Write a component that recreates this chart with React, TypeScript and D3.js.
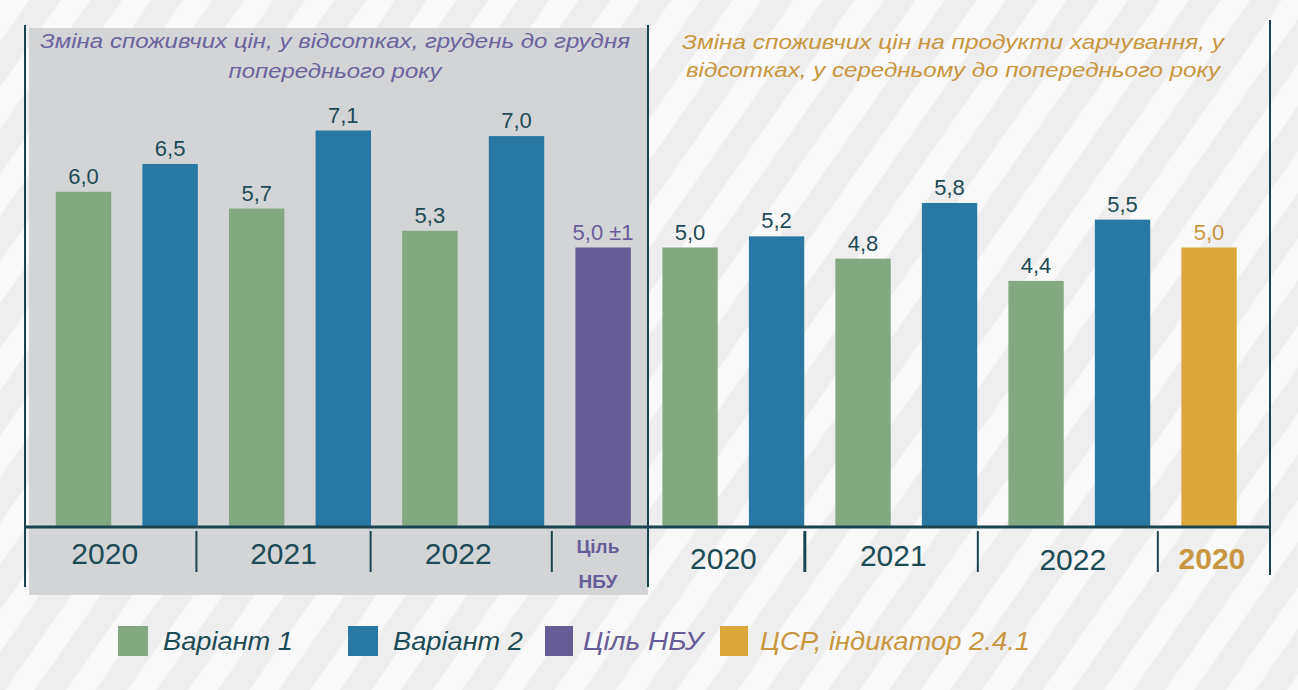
import React, { useEffect } from "react";
import * as d3 from "d3";

const years = ["2020", "2021", "2022"];
const variant1Cpi = [6.0, 5.7, 5.3];
const variant2Cpi = [6.5, 7.1, 7.0];
const nbuTarget = 5.0;
const nbuTargetLabel = "5,0 ±1";
const variant1Food = [5.0, 4.8, 4.4];
const variant2Food = [5.2, 5.8, 5.5];
const sdgIndicator = 5.0;
const sdgYear = "2020";
const nbuCategory = ["Ціль", "НБУ"];
const leftTitle = ["Зміна споживчих цін, у відсотках, грудень до грудня", "попереднього року"];
const rightTitle = ["Зміна споживчих  цін на продукти харчування, у", "відсотках, у середньому до попереднього року"];
const legendItems = ["Варіант 1", "Варіант 2", "Ціль НБУ", "ЦСР, індикатор 2.4.1"];

const C = {
  green: "#84a882",
  blue: "#2878a3",
  purple: "#675d96",
  gold: "#dca73a",
  goldText: "#c8963e",
  dark: "#1d4b55",
  line: "#1a4550",
  panel: "#d3d4d6",
};
const FONT = "'Liberation Sans', Arial, sans-serif";
const fmt = (v: number) => v.toFixed(1).replace(".", ",");

type Bar = { key: string; value: number; color: string; label: string; labelColor: string };

const leftBars: Bar[] = [];
years.forEach((y, i) => {
  leftBars.push({ key: y + "-1", value: variant1Cpi[i], color: C.green, label: fmt(variant1Cpi[i]), labelColor: C.dark });
  leftBars.push({ key: y + "-2", value: variant2Cpi[i], color: C.blue, label: fmt(variant2Cpi[i]), labelColor: C.dark });
});
leftBars.push({ key: "nbu", value: nbuTarget, color: C.purple, label: nbuTargetLabel, labelColor: C.purple });

const rightBars: Bar[] = [];
years.forEach((y, i) => {
  rightBars.push({ key: y + "-1", value: variant1Food[i], color: C.green, label: fmt(variant1Food[i]), labelColor: C.dark });
  rightBars.push({ key: y + "-2", value: variant2Food[i], color: C.blue, label: fmt(variant2Food[i]), labelColor: C.dark });
});
rightBars.push({ key: "sdg", value: sdgIndicator, color: C.gold, label: fmt(sdgIndicator), labelColor: C.goldText });

const BASE = 526;
const y = d3.scaleLinear().domain([0, 8]).range([BASE, BASE - 8 * 55.7]);

function Panel({ bars, x0, x1, edgeL, edgeR, labels, sepOffsets, sepWidths }: any) {
  const x = d3.scaleBand<string>().domain(bars.map((b: Bar) => b.key)).range([x0, x1]).paddingInner(0.36).paddingOuter(0.18);
  const step = x.step();
  const seps = [2, 4, 6].map((i, k) => (x(bars[i].key) as number) - step * 0.33 + sepOffsets[k]);
  const bounds = [edgeL, ...seps, edgeR];
  return (
    <g>
      {bars.map((b: Bar) => (
        <g key={b.key}>
          <rect x={x(b.key)} y={y(b.value)} width={x.bandwidth()} height={BASE - y(b.value)} fill={b.color} />
          <text x={(x(b.key) as number) + x.bandwidth() / 2} y={y(b.value) - 8} textAnchor="middle" fontSize={22} fill={b.labelColor} fontFamily={FONT}>
            {b.label}
          </text>
        </g>
      ))}
      {seps.map((s: number, i: number) => (
        <line key={i} x1={s} x2={s} y1={531} y2={572} stroke={C.line} strokeWidth={sepWidths[i]} />
      ))}
      {labels.map((l: any, i: number) => {
        const cx = (bounds[i] + bounds[i + 1]) / 2;
        return l.render(cx);
      })}
    </g>
  );
}

export default function App() {
  useEffect(() => {
    document.body.style.margin = "0";
  }, []);
  const yearLabel = (t: string, color = C.dark, bold = false, dy = 0, dx = 0) => ({
    render: (cx: number) => (
      <text key={t + cx} x={cx + dx} y={564 + dy} textAnchor="middle" fontSize={30} fontWeight={bold ? "bold" : "normal"} fill={color} fontFamily={FONT}>
        {t}
      </text>
    ),
  });
  const nbuLabel = {
    render: (cx: number) => (
      <g key="nbu">
        {nbuCategory.map((t, i) => (
          <text key={t} x={cx - 2} y={553 + i * 35} textAnchor="middle" fontSize={19} fontWeight="bold" fill={C.purple} fontFamily={FONT}>
            {t}
          </text>
        ))}
      </g>
    ),
  };
  const legendColors = [C.green, C.blue, C.purple, C.gold];
  const legendTextColors = [C.dark, C.dark, C.purple, C.goldText];
  const legendX = [118, 348, 545, 720];
  const legendTextX = [163, 393, 583, 760];
  const legendW = [130, 130, 120, 270];
  const leftTitleW = [590, 213];
  const rightTitleW = [542, 534];
  return (
    <svg width={1298} height={690} style={{ display: "block" }}>
      <defs>
        <pattern id="stripes" width={50} height={50} patternUnits="userSpaceOnUse" patternTransform="rotate(35)">
          <rect width={50} height={50} fill="#eeeeee" />
          <rect width={24} height={50} fill="#f9f9f9" />
        </pattern>
      </defs>
      <rect width={1298} height={690} fill="url(#stripes)" />
      <rect x={29} y={28} width={619} height={567} fill={C.panel} />
      <line x1={25} x2={25} y1={25} y2={587} stroke={C.line} strokeWidth={2} />
      <line x1={648} x2={648} y1={25} y2={587} stroke={C.line} strokeWidth={2} />
      <line x1={1270} x2={1270} y1={20} y2={575} stroke={C.line} strokeWidth={2} />
      {leftTitle.map((t, i) => (
        <text key={t} x={335} y={48 + i * 30} textAnchor="middle" fontSize={21} fontStyle="italic" fill="#6b639c" fontFamily={FONT}
          textLength={leftTitleW[i]} lengthAdjust="spacingAndGlyphs">
          {t}
        </text>
      ))}
      {rightTitle.map((t, i) => (
        <text key={t} x={953} y={49 + i * 28} textAnchor="middle" fontSize={21} fontStyle="italic" fill={C.goldText} fontFamily={FONT}
          textLength={rightTitleW[i]} lengthAdjust="spacingAndGlyphs">
          {t}
        </text>
      ))}
      <Panel
        bars={leftBars}
        x0={40.2}
        x1={646.4}
        edgeL={25}
        edgeR={648}
        sepOffsets={[-4, -3, 5]}
        sepWidths={[2, 2, 2]}
        labels={[yearLabel(years[0], C.dark, false, 0, -6), yearLabel(years[1]), yearLabel(years[2], C.dark, false, 0, -3), nbuLabel]}
      />
      <Panel
        bars={rightBars}
        x0={646.8}
        x1={1252.3}
        edgeL={648}
        edgeR={1270}
        sepOffsets={[-2, -2, 5]}
        sepWidths={[3, 2, 2]}
        labels={[yearLabel(years[0], C.dark, false, 5, -3), yearLabel(years[1], C.dark, false, 2, 2), yearLabel(years[2], C.dark, false, 6, 5), yearLabel(sdgYear, C.goldText, true, 5, -2)]}
      />
      <line x1={25} x2={1270} y1={527} y2={527} stroke={C.line} strokeWidth={3} />
      {legendItems.map((t, i) => (
        <g key={t}>
          <rect x={legendX[i]} y={626} width={i < 2 ? 30 : 28} height={30} fill={legendColors[i]} />
          <text x={legendTextX[i]} y={650} fontSize={26} fontStyle="italic" fill={legendTextColors[i]} fontFamily={FONT}
            textLength={legendW[i]} lengthAdjust="spacingAndGlyphs">
            {t}
          </text>
        </g>
      ))}
    </svg>
  );
}
